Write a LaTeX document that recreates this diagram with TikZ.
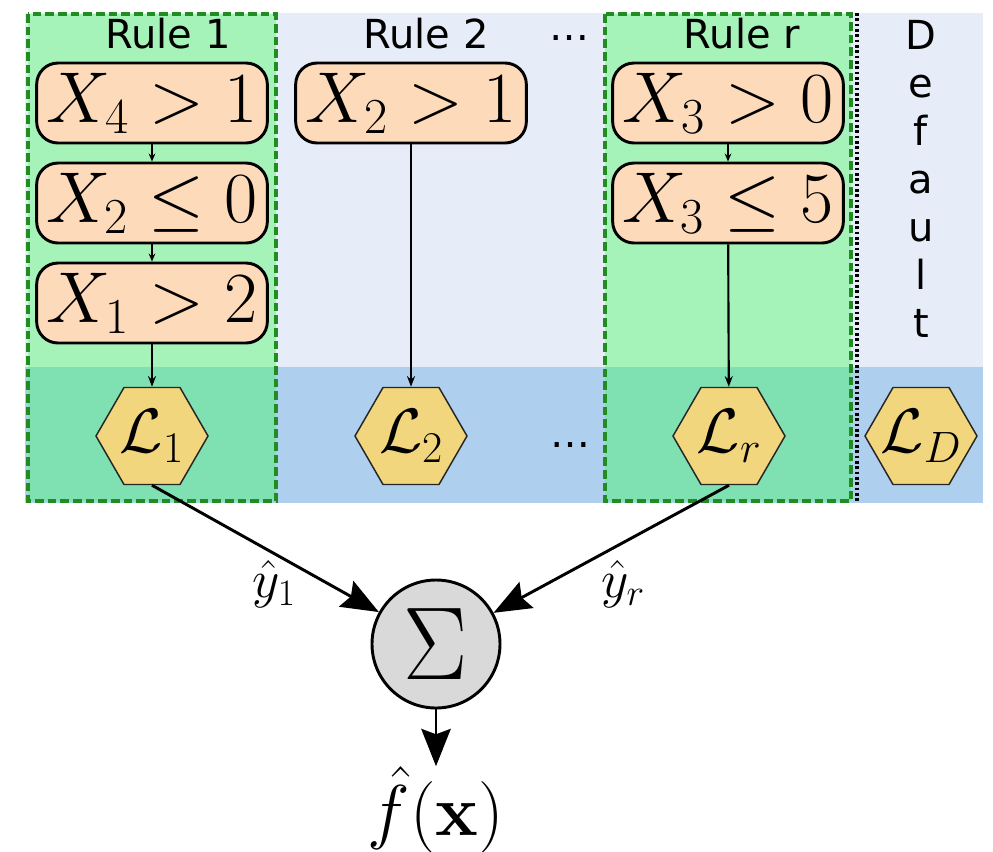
\RequirePackage{fix-cm}
\documentclass[tikz,border=0pt]{standalone}
\usepackage[no-math]{fontspec}
\setsansfont{DejaVu Sans}
\usetikzlibrary{arrows.meta,shapes.geometric}
\definecolor{bandlight}{RGB}{230,237,249}
\definecolor{banddark}{RGB}{174,208,238}
\definecolor{rulelight}{RGB}{166,243,185}
\definecolor{ruledark}{RGB}{127,224,178}
\definecolor{ruleedge}{RGB}{34,139,34}
\definecolor{condfill}{RGB}{253,218,185}
\definecolor{leaffill}{RGB}{242,214,126}
\definecolor{sumfill}{RGB}{217,217,217}
\begin{document}
\begin{tikzpicture}[x=0.75pt,y=-0.75pt,
  cond/.style={draw, line width=2.2pt, fill=condfill, rounded corners=16pt,
    minimum width=173pt, minimum height=60pt, inner sep=0pt,
    font=\fontsize{54}{64}\selectfont},
  leaf/.style={draw=black!85, line width=1.1pt, fill=leaffill,
    regular polygon, regular polygon sides=6, minimum size=84pt,
    inner sep=0pt, font=\fontsize{47}{56}\selectfont},
  label/.style={font=\sffamily\fontsize{30}{36}\selectfont, inner sep=0pt},
  rulebox/.style={draw=ruleedge, line width=3.6pt, dash pattern=on 6.5pt off 3pt},
  thinarrow/.style={line width=1.1pt, -{Stealth[length=6pt,width=5pt]}},
  leafarrow/.style={line width=1.6pt, -{Stealth[length=8pt,width=6pt]}},
  bigarrow/.style={line width=2.2pt, -{Stealth[length=28pt,width=22pt,inset=4pt]}}
]
\useasboundingbox (0,0) rectangle (993,851);

% background bands
\fill[bandlight] (25,13) rectangle (983,367);
\fill[banddark] (25,367) rectangle (983,503);

% highlighted rule columns
\foreach \l/\r in {28/276, 605/851} {
  \fill[rulelight] (\l,14) rectangle (\r,367);
  \fill[ruledark] (\l,367) rectangle (\r,501);
  \draw[rulebox] (\l,14) rectangle (\r,501);
}

% separator before the default rule
\draw[line width=2.4pt, dash pattern=on 2pt off 2pt] (857,13) -- (857,503);

% column headings
\node[label, anchor=base] (h1) at (168,48) {Rule 1};
\node[label, anchor=base] (h2) at (426,48) {Rule 2};
\node[label, anchor=base] (hd) at (569,40) {…};
\node[label, anchor=base] (hr) at (742,48) {Rule r};
\node[label, anchor=north, align=center] (hdef) at (921,20) {D\\e\\f\\a\\u\\l\\t};

% conditions
\node[cond] (c11) at (152,103) {$X_4 > 1$};
\node[cond] (c12) at (152,203) {$X_2 \leq 0$};
\node[cond] (c13) at (152,303) {$X_1 > 2$};
\node[cond] (c21) at (411,103) {$X_2 > 1$};
\node[cond] (cr1) at (728,103) {$X_3 > 0$};
\node[cond] (cr2) at (728,203) {$X_3 \leq 5$};

% leaves (text kept out of the size computation so all hexagons match)
\node[leaf] (L1) at (152,436) {\makebox[0pt]{$\mathcal{L}_1$}};
\node[leaf] (L2) at (411,436) {\makebox[0pt]{$\mathcal{L}_2$}};
\node[leaf] (Lr) at (729,436) {\makebox[0pt]{$\mathcal{L}_r$}};
\node[leaf] (LD) at (921,436) {\makebox[0pt]{$\mathcal{L}_D$}};
\node[label, anchor=base] (ld) at (570,447) {…};

% aggregation
\node[circle, draw, line width=2.2pt, fill=sumfill, minimum size=96pt, inner sep=0pt,
  font=\fontsize{72}{84}\selectfont] (sum) at (436,644) {\scalebox{1}[1.08]{$\Sigma$}};
\node[font=\fontsize{54}{64}\selectfont, inner sep=0pt] (out) at (436,810) {$\hat{f}(\mathbf{x})$};

\node[font=\fontsize{40}{48}\selectfont, inner sep=0pt] (y1) at (274,584) {$\hat{y}_1$};
\node[font=\fontsize{40}{48}\selectfont, inner sep=0pt] (yr) at (623,584) {$\hat{y}_r$};

% connectors
\draw[thinarrow] (c11) -- (c12);
\draw[thinarrow] (c12) -- (c13);
\draw[thinarrow] (cr1) -- (cr2);
\draw[leafarrow] (c13) -- (L1);
\draw[leafarrow] (c21) -- (L2);
\draw[leafarrow] (cr2) -- (Lr);
\draw[bigarrow] (L1.south) -- (sum);
\draw[bigarrow] (Lr.south) -- (sum);
\draw[bigarrow] (sum) -- (out.north);
\end{tikzpicture}
\end{document}
